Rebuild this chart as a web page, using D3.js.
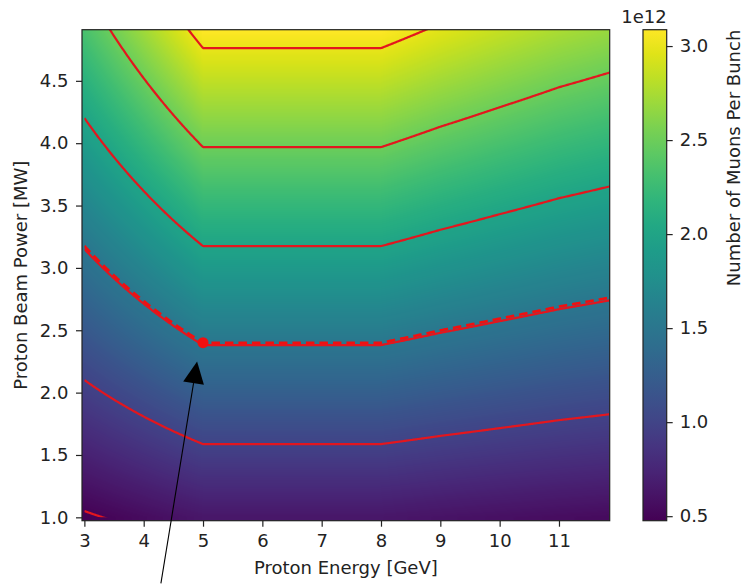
<!DOCTYPE html>
<html>
<head>
<meta charset="utf-8">
<script src="https://cdn.jsdelivr.net/npm/d3@7"></script>
<style>
  html, body { margin: 0; padding: 0; background: #fff; }
  svg { display: block; font-family: "DejaVu Sans", sans-serif; }
</style>
</head>
<body>
<svg id="chart" width="742" height="587"></svg>
<script>
// Proton energy grid [GeV] and muons per bunch delivered per MW of beam power at each energy (units of 1e12)
const energies = [3, 5, 8, 9, 10, 11, 12];
const muonsPerMW = [0.476, 0.630, 0.630, 0.605, 0.583, 0.562, 0.545];
// Beam power span of the scan [MW]
const powerRange = [1.0, 4.9];
// Contour levels (1e12 muons per bunch)
const contourLevels = [0.5, 1.0, 1.5, 2.0, 2.5, 3.0];
// Selected operating point
const opEnergy = 5;
const opPower = 2.4;
// Annotation arrow: tail and head in data coordinates [GeV, MW]
const arrowTail = [4.29, 0.47];
const arrowHead = [4.90, 2.25];
// Tick values
const xTicks = [3, 4, 5, 6, 7, 8, 9, 10, 11];
const yTicks = [1.0, 1.5, 2.0, 2.5, 3.0, 3.5, 4.0, 4.5];
const cbTicks = [0.5, 1.0, 1.5, 2.0, 2.5, 3.0];

(function draw() {
  const svg = d3.select("#chart");
  const W = 742, H = 587;
  svg.append("rect").attr("width", W).attr("height", H).attr("fill", "#fff");

  const pLeft = 82, pRight = 609.7, pTop = 29.7, pBottom = 520.7;
  const x = d3.scaleLinear().domain([2.96, 11.855]).range([pLeft, pRight]);
  const y = d3.scaleLinear().domain([0.973, 4.91]).range([pBottom, pTop]);

  const yieldAt = d3.scaleLinear().domain(energies).range(muonsPerMW).clamp(true);
  const field = (e, p) => p * yieldAt(e);

  const vmin = field(energies[0], powerRange[0]);
  const vmax = d3.max(energies, e => field(e, powerRange[1]));
  const color = d3.scaleSequential(d3.interpolateViridis).domain([vmin, vmax]);

  // Heat map raster
  const pw = Math.round(pRight - pLeft), ph = Math.round(pBottom - pTop);
  const canvas = document.createElement("canvas");
  canvas.width = pw; canvas.height = ph;
  const ctx = canvas.getContext("2d");
  const img = ctx.createImageData(pw, ph);
  const sx = (pRight - pLeft) / pw, sy = (pBottom - pTop) / ph;
  for (let j = 0; j < ph; j++) {
    const p = Math.max(powerRange[0], Math.min(powerRange[1], y.invert(pTop + (j + 0.5) * sy)));
    for (let i = 0; i < pw; i++) {
      const e = Math.max(energies[0], x.invert(pLeft + (i + 0.5) * sx));
      const c = d3.rgb(color(field(e, p)));
      const k = (j * pw + i) * 4;
      img.data[k] = c.r; img.data[k + 1] = c.g; img.data[k + 2] = c.b; img.data[k + 3] = 255;
    }
  }
  ctx.putImageData(img, 0, 0);
  svg.append("image")
    .attr("x", pLeft).attr("y", pTop)
    .attr("width", pRight - pLeft).attr("height", pBottom - pTop)
    .attr("preserveAspectRatio", "none")
    .attr("href", canvas.toDataURL());

  // Contours: iso-lines of power * yield(E)
  const defs = svg.append("defs");
  defs.append("clipPath").attr("id", "dataClip")
    .append("rect")
    .attr("x", x(energies[0])).attr("y", pTop)
    .attr("width", pRight - x(energies[0])).attr("height", y(powerRange[0]) - pTop);

  const sampleE = d3.range(x(energies[0]), pRight + 1, 1).map(px => x.invert(px));
  const line = d3.line().x(d => x(d[0])).y(d => y(d[1]));
  const contourG = svg.append("g").attr("clip-path", "url(#dataClip)");

  contourLevels.forEach(level => {
    const pts = sampleE.map(e => [e, level / yieldAt(e)]);
    contourG.append("path")
      .attr("d", line(pts))
      .attr("fill", "none")
      .attr("stroke", "#e3161e")
      .attr("stroke-width", 2.2)
      .attr("stroke-linejoin", "round");
  });

  // Iso-line through the operating point
  const opLevel = field(opEnergy, opPower);
  contourG.append("path")
    .attr("d", line(sampleE.map(e => [e, opLevel / yieldAt(e)])))
    .attr("fill", "none")
    .attr("stroke", "#f01010")
    .attr("stroke-width", 2.6)
    .attr("stroke-dasharray", "8.5,5");

  svg.append("circle")
    .attr("cx", x(opEnergy)).attr("cy", y(opPower))
    .attr("r", 5.5)
    .attr("fill", "#f01010");

  // Frame
  svg.append("rect")
    .attr("x", pLeft).attr("y", pTop)
    .attr("width", pRight - pLeft).attr("height", pBottom - pTop)
    .attr("fill", "none").attr("stroke", "#222").attr("stroke-width", 1.2);

  const fs = "18px";
  const xAxis = svg.append("g").attr("transform", `translate(0,${pBottom})`)
    .call(d3.axisBottom(x).tickValues(xTicks).tickSize(6).tickPadding(8).tickFormat(d3.format("d")));
  const yAxis = svg.append("g").attr("transform", `translate(${pLeft},0)`)
    .call(d3.axisLeft(y).tickValues(yTicks).tickSize(6).tickPadding(7.5).tickFormat(d3.format(".1f")));
  [xAxis, yAxis].forEach(g => {
    g.select(".domain").remove();
    g.selectAll(".tick line").attr("stroke", "#222").attr("stroke-width", 1.2);
    g.selectAll(".tick text").attr("font-size", fs).attr("fill", "#222").attr("font-family", "DejaVu Sans");
  });

  svg.append("text")
    .attr("x", (pLeft + pRight) / 2).attr("y", 574)
    .attr("text-anchor", "middle").attr("font-size", fs).attr("fill", "#222")
    .text("Proton Energy [GeV]");
  svg.append("text")
    .attr("transform", `translate(26.5,${(pTop + pBottom) / 2}) rotate(-90)`)
    .attr("text-anchor", "middle").attr("font-size", fs).attr("fill", "#222")
    .text("Proton Beam Power [MW]");

  // Colorbar
  const cbX = 643, cbW = 23.7;
  const cbScale = d3.scaleLinear().domain([vmin, vmax]).range([pBottom, pTop]);
  const grad = defs.append("linearGradient").attr("id", "cbGrad")
    .attr("x1", 0).attr("y1", 1).attr("x2", 0).attr("y2", 0);
  d3.range(0, 1.0001, 0.05).forEach(t => {
    grad.append("stop").attr("offset", t).attr("stop-color", d3.interpolateViridis(t));
  });
  svg.append("rect")
    .attr("x", cbX).attr("y", pTop).attr("width", cbW).attr("height", pBottom - pTop)
    .attr("fill", "url(#cbGrad)").attr("stroke", "#222").attr("stroke-width", 1.2);
  const cbAxis = svg.append("g").attr("transform", `translate(${cbX + cbW},0)`)
    .call(d3.axisRight(cbScale).tickValues(cbTicks).tickSize(6).tickPadding(7).tickFormat(d3.format(".1f")));
  cbAxis.select(".domain").remove();
  cbAxis.selectAll(".tick line").attr("stroke", "#222").attr("stroke-width", 1.2);
  cbAxis.selectAll(".tick text").attr("font-size", fs).attr("fill", "#222").attr("font-family", "DejaVu Sans");

  svg.append("text")
    .attr("x", cbX + cbW).attr("y", 23)
    .attr("text-anchor", "end").attr("font-size", fs).attr("fill", "#222")
    .text("1e12");
  svg.append("text")
    .attr("transform", `translate(739.5,${pTop}) rotate(-90)`)
    .attr("text-anchor", "end").attr("font-size", fs).attr("fill", "#222")
    .text("Number of Muons Per Bunch");

  // Annotation arrow pointing at the operating point
  const tx = x(arrowTail[0]), ty = y(arrowTail[1]);
  const hx = x(arrowHead[0]), hy = y(arrowHead[1]);
  const ang = Math.atan2(hy - ty, hx - tx);
  const headLen = 22, headHalf = 10.5;
  const bx = hx - headLen * Math.cos(ang), by = hy - headLen * Math.sin(ang);
  svg.append("line")
    .attr("x1", tx).attr("y1", ty).attr("x2", bx).attr("y2", by)
    .attr("stroke", "#000").attr("stroke-width", 1.1);
  svg.append("path")
    .attr("d", d3.line()([
      [hx, hy],
      [bx + headHalf * Math.sin(ang), by - headHalf * Math.cos(ang)],
      [bx - headHalf * Math.sin(ang), by + headHalf * Math.cos(ang)]
    ]) + "Z")
    .attr("fill", "#000");
})();
</script>
</body>
</html>
